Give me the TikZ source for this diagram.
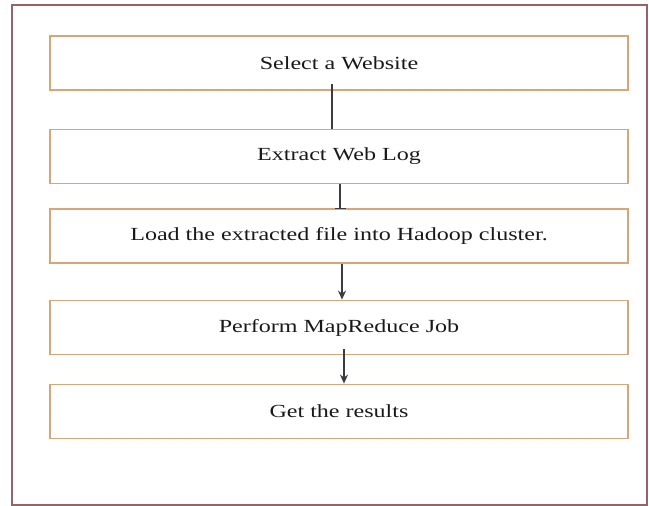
\documentclass[tikz,border=0pt]{standalone}
\usepackage{fontspec}
\setmainfont{Liberation Serif}
\usetikzlibrary{arrows.meta}
\definecolor{framebrown}{RGB}{150,100,100}
\definecolor{boxtan}{RGB}{218,165,118}
\definecolor{linkgray}{RGB}{60,60,60}
\newcommand{\widetext}[1]{\scalebox{1.3}[1]{#1}}

\begin{document}
\begin{tikzpicture}[x=1pt,y=-1pt,
    stepbox/.style={draw=boxtan, line width=1.8pt, rectangle, minimum width=578pt,
      minimum height=54pt, inner sep=0pt, text=black!90,
      font=\fontsize{18.5}{22}\selectfont},
    link/.style={draw=linkgray, line width=1.2pt}]
    \useasboundingbox (0,0) rectangle (649,506);
    \draw[framebrown, line width=1.2pt] (12,5) rectangle (647,505);

    \node[stepbox] (site) at (339,63) {\widetext{Select a Website}};
    \node[stepbox] (weblog) at (339,156.5) {\widetext{Extract Web Log}};
    \node[stepbox] (load) at (339,236) {\widetext{Load the extracted file into Hadoop cluster.}};
    \node[stepbox] (mapred) at (339,327.5) {\widetext{Perform MapReduce Job}};
    \node[stepbox] (result) at (339,411.5) {\widetext{Get the results}};

    \draw[link] ([xshift=-7pt,yshift=7pt]site.south) -- ([xshift=-7pt]weblog.north);
    \draw[link, -{Bar[width=11pt,line width=1.4pt]}] ([xshift=1pt]weblog.south) -- ([xshift=1pt,yshift=-1pt]load.north);
    \draw[link, -{Stealth[length=9pt,width=8pt]}] ([xshift=3pt]load.south) -- ([xshift=3pt]mapred.north);
    \draw[link, -{Stealth[length=9pt,width=8pt]}] ([xshift=5pt,yshift=6pt]mapred.south) -- ([xshift=5pt]result.north);
  \end{tikzpicture}
\end{document}
